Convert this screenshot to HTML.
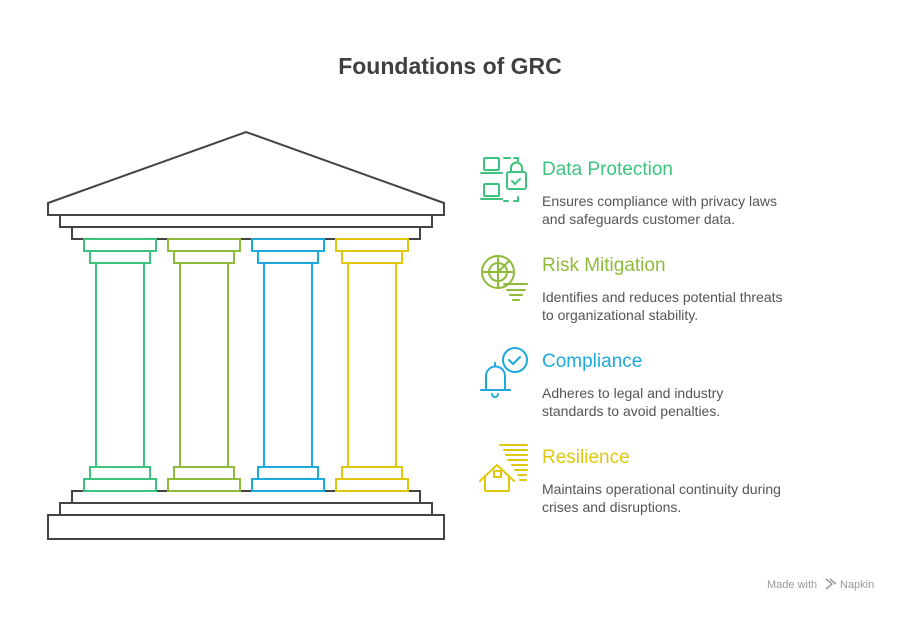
<!DOCTYPE html>
<html><head><meta charset="utf-8"><style>
body{margin:0;background:#fff;width:900px;height:613px;overflow:hidden;font-family:"Liberation Sans",sans-serif;}
</style></head><body>
<svg width="900" height="613" xmlns="http://www.w3.org/2000/svg" font-family="Liberation Sans, sans-serif">
<text x="450" y="74" text-anchor="middle" font-size="23" font-weight="bold" fill="#404040">Foundations of GRC</text>
<g fill="none" stroke="#444" stroke-width="2">
<polygon points="48,215 48,203 246,132 444,203 444,215"/>
<rect x="60" y="215" width="372" height="12"/>
<rect x="72" y="227" width="348" height="12"/>
<rect x="72" y="491" width="348" height="12"/>
<rect x="60" y="503" width="372" height="12"/>
<rect x="48" y="515" width="396" height="24"/>
</g>
<g fill="#fff" stroke-width="2">
<g stroke="#3cc47f">
<rect x="84" y="239" width="72" height="12"/><rect x="90" y="251" width="60" height="12"/>
<rect x="96" y="263" width="48" height="204"/>
<rect x="90" y="467" width="60" height="12"/><rect x="84" y="479" width="72" height="12"/></g>
<g stroke="#8fbb3a" transform="translate(84,0)">
<rect x="84" y="239" width="72" height="12"/><rect x="90" y="251" width="60" height="12"/>
<rect x="96" y="263" width="48" height="204"/>
<rect x="90" y="467" width="60" height="12"/><rect x="84" y="479" width="72" height="12"/></g>
<g stroke="#1ea9dc" transform="translate(168,0)">
<rect x="84" y="239" width="72" height="12"/><rect x="90" y="251" width="60" height="12"/>
<rect x="96" y="263" width="48" height="204"/>
<rect x="90" y="467" width="60" height="12"/><rect x="84" y="479" width="72" height="12"/></g>
<g stroke="#e0c80e" transform="translate(252,0)">
<rect x="84" y="239" width="72" height="12"/><rect x="90" y="251" width="60" height="12"/>
<rect x="96" y="263" width="48" height="204"/>
<rect x="90" y="467" width="60" height="12"/><rect x="84" y="479" width="72" height="12"/></g>
</g>
<g fill="none" stroke-width="2" stroke-linecap="round" stroke-linejoin="round">
<g stroke="#3cc47f">
<rect x="484" y="158" width="15" height="12" rx="1"/><path d="M481,173 h21"/>
<rect x="484" y="184" width="15" height="12" rx="1"/><path d="M481,199 h21"/>
<path d="M504,158 h6 M514,158 h4 v3 M504,201 h4 M514,201 h4 v-4"/>
<rect x="507" y="172" width="19" height="17" rx="2"/><path d="M511,172 v-4 a5.5,5.5 0 0 1 11,0 v4 M512,181 l3,3 l5,-5"/>
</g>
<g stroke="#8fbb3a">
<circle cx="498" cy="272" r="16"/><circle cx="498" cy="272" r="9"/><path d="M498,256 v32 M482,272 h32 M498,272 l11,-11"/>
<path d="M504,284 h23 M507,290 h18 M510,295 h12 M513,300 h6"/>
</g>
<g stroke="#1ea9dc">
<path d="M486,389 v-13 a9.5,9.5 0 0 1 19,0 v13 M481,390 h29 M495,366 v-3 M492,394 a3,3 0 0 0 6,0"/>
<circle cx="515" cy="360" r="12"/><path d="M509,360 l4,4 l7,-7"/>
</g>
<g stroke="#e0c80e">
<path d="M480,481 l17,-16 l17,16 M485,476 v15 h24 v-15"/><rect x="494" y="471" width="7" height="6"/>
<path d="M500,445 h27 M504,450 h23 M506,455 h21 M508,460 h19 M512,465 h15 M515,470 h12 M518,475 h8 M520,480 h6"/>
</g>
</g>
<g font-size="19">
<text x="542" y="175" fill="#3cc47f">Data Protection</text>
<text x="542" y="271" fill="#8fbb3a">Risk Mitigation</text>
<text x="542" y="367" fill="#1ea9dc">Compliance</text>
<text x="542" y="463" fill="#e0c80e">Resilience</text>
</g>
<g font-size="14" fill="#555">
<text x="542" y="206">Ensures compliance with privacy laws</text>
<text x="542" y="224">and safeguards customer data.</text>
<text x="542" y="302">Identifies and reduces potential threats</text>
<text x="542" y="320">to organizational stability.</text>
<text x="542" y="398">Adheres to legal and industry</text>
<text x="542" y="416">standards to avoid penalties.</text>
<text x="542" y="494">Maintains operational continuity during</text>
<text x="542" y="512">crises and disruptions.</text>
</g>
<text x="767" y="588" font-size="11" fill="#999">Made with</text>
<path d="M826,579 l6,5 l-6,5 M830,579 l6,5" stroke="#999" stroke-width="1.5" fill="none"/>
<text x="840" y="588" font-size="11" fill="#999">Napkin</text>
</svg>
</body></html>
